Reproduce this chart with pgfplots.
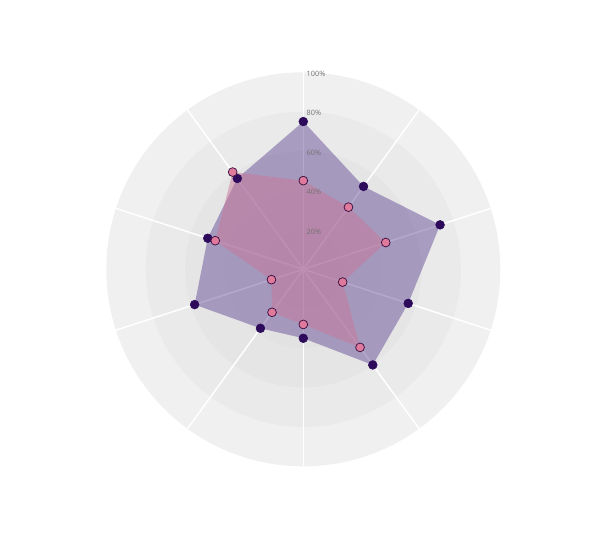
\documentclass[border=0pt]{standalone}
\usepackage{pgfplots}
\pgfplotsset{compat=1.18}
\usepackage{fontspec}
\newfontfamily\labfont{Open Sans}

\definecolor{bandA}{HTML}{F0F0F0}
\definecolor{bandB}{HTML}{EAEAEA}
\definecolor{bandC}{HTML}{E5E5E5}
\definecolor{bandD}{HTML}{E2E2E2}
\definecolor{bandE}{HTML}{E0E0E0}
\definecolor{darkfill}{RGB}{80,50,138}
\definecolor{darkmark}{HTML}{2D0B5A}
\definecolor{pinkfill}{RGB}{200,120,152}
\definecolor{pinkmark}{HTML}{E07A9D}
\definecolor{pinkedge}{HTML}{3A1040}

\begin{document}
\begin{tikzpicture}
\begin{axis}[
  scale only axis,
  width=453.75pt, height=405pt,
  xmin=-153.96, xmax=153.15,
  ymin=-137.41, ymax=136.70,
  hide axis, clip=false,
]
% rings of the radial axis, 20% apart
\fill[bandA] (axis cs:0,0) circle[radius=147.75pt];
\fill[bandB] (axis cs:0,0) circle[radius=118.2pt];
\fill[bandC] (axis cs:0,0) circle[radius=88.65pt];
\fill[bandD] (axis cs:0,0) circle[radius=59.1pt];
\fill[bandE] (axis cs:0,0) circle[radius=29.55pt];
% spokes
\pgfplotsinvokeforeach{90,54,18,-18,-54,-90,-126,-162,162,126}{
  \draw[white, line width=1.1pt] (axis cs:0,0) -- ++(#1:147.75pt);
}

% series 1 (dark)
\addplot[data cs=polar, draw=none, fill=darkfill, fill opacity=0.42]
  coordinates {(90,75) (54,52) (18,73) (-18,56) (-54,60) (-90,35)
               (-126,37) (-162,58) (162,51) (126,57) (90,75)};
% series 2 (pink)
\addplot[data cs=polar, draw=none, fill=pinkfill, fill opacity=0.5]
  coordinates {(90,45) (54,39) (18,44) (-18,21) (-54,49) (-90,28)
               (-126,27) (-162,17) (162,47) (126,61) (90,45)};

\addplot[data cs=polar, only marks, mark=*, mark size=3.3pt,
  mark options={fill=darkmark, draw=darkmark, line width=0.4pt}]
  coordinates {(90,75) (54,52) (18,73) (-18,56) (-54,60) (-90,35)
               (-126,37) (-162,58) (162,51) (126,57)};
\addplot[data cs=polar, only marks, mark=*, mark size=3.3pt,
  mark options={fill=pinkmark, draw=pinkedge, line width=0.55pt}]
  coordinates {(90,45) (54,39) (18,44) (-18,21) (-54,49) (-90,28)
               (-126,27) (-162,17) (162,47) (126,61)};

% radial tick labels
\pgfplotsinvokeforeach{20,40,60,80,100}{
  \node[anchor=west, inner sep=0pt, text=black!55,
        font=\labfont\fontsize{5.5}{6}\selectfont]
    at (axis cs:1.6,#1-0.8) {#1\%};
}
\end{axis}
\pgfresetboundingbox
\path[use as bounding box] (current axis.south west) rectangle (current axis.north east);
\end{tikzpicture}
\end{document}
